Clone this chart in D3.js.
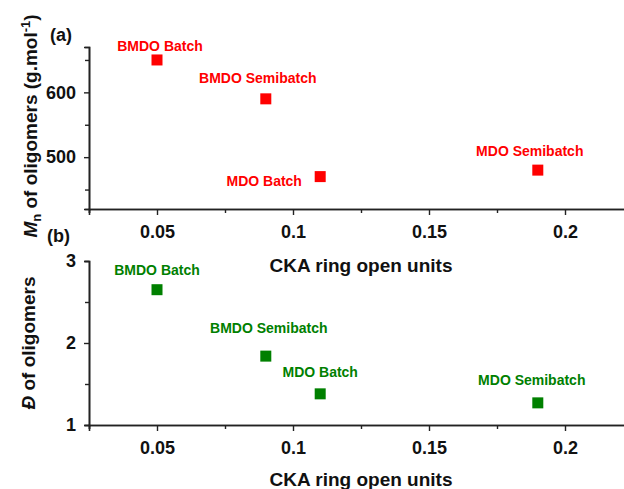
<!DOCTYPE html>
<html>
<head>
<meta charset="utf-8">
<script src="https://cdn.jsdelivr.net/npm/d3@7"></script>
<style>
  html, body { margin: 0; padding: 0; background: #fff; }
  svg { display: block; font-family: "Liberation Sans", Arial, sans-serif; font-weight: bold; }
</style>
</head>
<body>
<svg id="chart" width="624" height="489"></svg>
<script>
// Sample names and measured values
const samples = ["BMDO Batch", "BMDO Semibatch", "MDO Batch", "MDO Semibatch"];
const ringOpenUnits = [0.05, 0.09, 0.11, 0.19];
const mnValues = [650, 590, 470, 480];
const dispersity = [2.65, 1.84, 1.38, 1.27];

// Axis ticks
const xMajorTicks = [0.05, 0.1, 0.15, 0.2];
const xMinorTicks = [0.025, 0.075, 0.125, 0.175, 0.225];
const mnMajorTicks = [500, 600];
const mnMinorTicks = [450, 550, 650];
const dMajorTicks = [1, 2, 3];
const dMinorTicks = [1.5, 2.5];

// Label offsets (px) from each marker, per panel
const labelOffsetsA = [[3, -9], [-8, -16], [-56, 9], [-8, -14]];
const labelOffsetsB = [[0, -15], [3, -23], [0, -17], [-6, -18]];

const svg = d3.select("#chart");
const axisColor = "#222";

const x = d3.scaleLinear().domain([0.025, 0.225]).range([89, 633]);
const yA = d3.scaleLinear().domain([420, 670]).range([209, 47]);
const yB = d3.scaleLinear().domain([1, 3]).range([425, 261]);

const fmtX = d => String(+d.toFixed(3));

function styleAxis(g) {
  g.select(".domain").attr("stroke", axisColor).attr("stroke-width", 1.6);
  g.selectAll(".tick line").attr("stroke", axisColor).attr("stroke-width", 1.4);
  g.selectAll(".tick text").attr("fill", "#111").style("font-size", "18px").style("font-weight", "bold")
    .style("font-family", '"Liberation Sans", Arial, sans-serif');
}

function panel(yScale, yMajor, yMinor, axisY, values, color, offsets) {
  // minor x ticks
  svg.append("g")
    .attr("transform", `translate(0,${axisY})`)
    .call(d3.axisBottom(x).tickValues(xMinorTicks).tickSize(4).tickFormat(""))
    .call(styleAxis);
  // major x ticks
  svg.append("g")
    .attr("transform", `translate(0,${axisY})`)
    .call(d3.axisBottom(x).tickValues(xMajorTicks).tickSize(6).tickPadding(10).tickFormat(fmtX))
    .call(styleAxis);

  const y0 = x.range()[0];
  svg.append("g")
    .attr("transform", `translate(${y0},0)`)
    .call(d3.axisLeft(yScale).tickValues(yMinor).tickSize(4).tickFormat(""))
    .call(styleAxis);
  svg.append("g")
    .attr("transform", `translate(${y0},0)`)
    .call(d3.axisLeft(yScale).tickValues(yMajor).tickSize(5).tickPadding(8).tickFormat(d3.format("d")))
    .call(styleAxis);

  const s = 11;
  svg.append("g").selectAll("rect")
    .data(values)
    .join("rect")
    .attr("x", (d, i) => x(ringOpenUnits[i]) - s / 2)
    .attr("y", d => yScale(d) - s / 2)
    .attr("width", s)
    .attr("height", s)
    .attr("fill", color);

  svg.append("g").selectAll("text")
    .data(values)
    .join("text")
    .attr("x", (d, i) => x(ringOpenUnits[i]) + offsets[i][0])
    .attr("y", (d, i) => yScale(d) + offsets[i][1])
    .attr("text-anchor", "middle")
    .attr("fill", color)
    .style("font-size", "14px")
    .text((d, i) => samples[i]);
}

panel(yA, mnMajorTicks, mnMinorTicks, 209, mnValues, "#ff0000", labelOffsetsA);
panel(yB, dMajorTicks, dMinorTicks, 425, dispersity, "#008000", labelOffsetsB);

// x-axis titles
[272, 486].forEach(yy => {
  svg.append("text")
    .attr("x", 361).attr("y", yy)
    .attr("text-anchor", "middle")
    .attr("fill", "#111")
    .style("font-size", "19px")
    .text("CKA ring open units");
});

// y-axis titles
const tA = svg.append("text")
  .attr("transform", "translate(37,126) rotate(-90)")
  .attr("text-anchor", "middle")
  .attr("fill", "#111")
  .style("font-size", "19px");
tA.append("tspan").style("font-style", "italic").text("M");
tA.append("tspan").attr("dy", 4).style("font-size", "13px").text("n");
tA.append("tspan").attr("dy", -4).text(" of oligomers (g.mol");
tA.append("tspan").attr("dy", -7).style("font-size", "13px").text("-1");
tA.append("tspan").attr("dy", 7).text(")");

const tB = svg.append("text")
  .attr("transform", "translate(35,343) rotate(-90)")
  .attr("text-anchor", "middle")
  .attr("fill", "#111")
  .style("font-size", "19px");
tB.append("tspan").style("font-style", "italic").text("Đ");
tB.append("tspan").text(" of oligomers");

// panel letters
svg.append("text").attr("x", 50).attr("y", 41).attr("fill", "#111").style("font-size", "18px").text("(a)");
svg.append("text").attr("x", 47).attr("y", 242).attr("fill", "#111").style("font-size", "18px").text("(b)");
</script>
</body>
</html>
